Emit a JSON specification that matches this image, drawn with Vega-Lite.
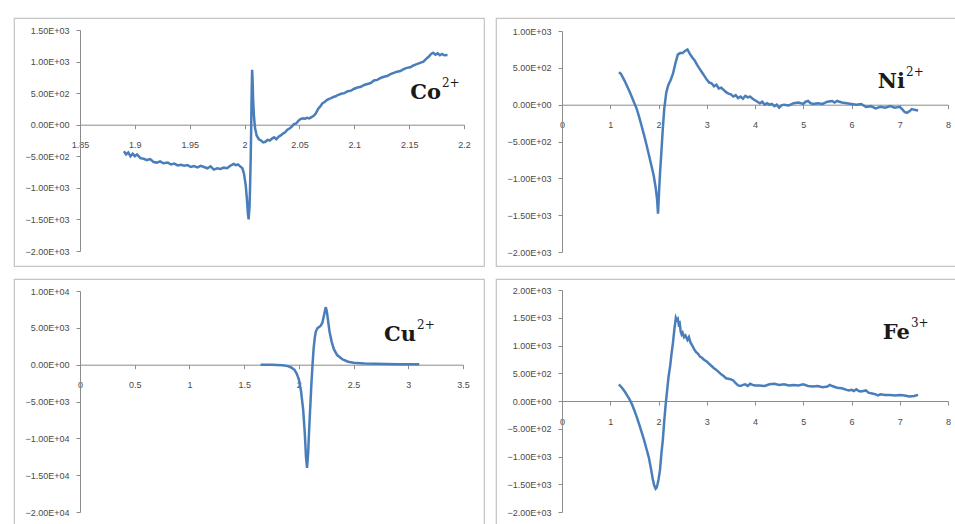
{
  "$schema": "https://vega.github.io/schema/vega-lite/v6.json",
  "background": "white",
  "padding": {"left": 13, "top": 17, "right": 0, "bottom": 0},
  "config": {
    "view": {"stroke": "#c4c4c4", "strokeWidth": 1.2},
    "axis": {"domainColor": "#8c8c8c", "tickColor": "#8c8c8c", "tickSize": 4, "labelFont": "Liberation Sans", "labelFontSize": 9, "labelColor": "#4a4a4a", "grid": false, "title": null, "labelFlush": false, "labelOverlap": false},
    "axisY": {"labelPadding": 7},
    "axisX": {"labelPadding": 12}
  },
  "columns": 2,
  "spacing": {"row": 11, "column": 10},
  "datasets": {
    "co": [
      {"x":1.890,"y":-420},{"x":1.892,"y":-470},{"x":1.894,"y":-440},{"x":1.896,"y":-500},{"x":1.898,"y":-460},{"x":1.900,"y":-500},{"x":1.902,"y":-470},{"x":1.905,"y":-530},{"x":1.908,"y":-540},{"x":1.911,"y":-560},{"x":1.914,"y":-545},{"x":1.917,"y":-590},{"x":1.920,"y":-600},{"x":1.923,"y":-580},{"x":1.926,"y":-610},{"x":1.930,"y":-600},{"x":1.933,"y":-630},{"x":1.936,"y":-615},{"x":1.939,"y":-645},{"x":1.942,"y":-635},{"x":1.945,"y":-650},{"x":1.948,"y":-640},{"x":1.951,"y":-670},{"x":1.954,"y":-655},{"x":1.957,"y":-675},{"x":1.960,"y":-650},{"x":1.963,"y":-670},{"x":1.966,"y":-690},{"x":1.969,"y":-660},{"x":1.972,"y":-710},{"x":1.975,"y":-690},{"x":1.978,"y":-700},{"x":1.981,"y":-680},{"x":1.984,"y":-690},{"x":1.987,"y":-650},{"x":1.990,"y":-620},{"x":1.992,"y":-640},{"x":1.994,"y":-630},{"x":1.996,"y":-660},{"x":1.998,"y":-690},{"x":1.9995,"y":-780},{"x":2.001,"y":-950},{"x":2.002,"y":-1150},{"x":2.003,"y":-1400},{"x":2.0037,"y":-1500},{"x":2.0045,"y":-1300},{"x":2.005,"y":-1000},{"x":2.0055,"y":-600},{"x":2.006,"y":-100},{"x":2.0063,"y":300},{"x":2.0066,"y":650},{"x":2.0069,"y":870},{"x":2.0073,"y":700},{"x":2.0078,"y":400},{"x":2.0085,"y":150},{"x":2.0095,"y":-50},{"x":2.011,"y":-170},{"x":2.013,"y":-230},{"x":2.015,"y":-250},{"x":2.017,"y":-280},{"x":2.019,"y":-270},{"x":2.021,"y":-240},{"x":2.023,"y":-250},{"x":2.025,"y":-220},{"x":2.027,"y":-200},{"x":2.029,"y":-230},{"x":2.031,"y":-190},{"x":2.033,"y":-170},{"x":2.035,"y":-140},{"x":2.037,"y":-120},{"x":2.039,"y":-80},{"x":2.041,"y":-60},{"x":2.043,"y":-30},{"x":2.045,"y":10},{"x":2.047,"y":20},{"x":2.049,"y":60},{"x":2.051,"y":90},{"x":2.053,"y":100},{"x":2.055,"y":95},{"x":2.057,"y":110},{"x":2.059,"y":100},{"x":2.061,"y":120},{"x":2.063,"y":140},{"x":2.065,"y":180},{"x":2.067,"y":250},{"x":2.069,"y":290},{"x":2.071,"y":340},{"x":2.073,"y":360},{"x":2.075,"y":390},{"x":2.077,"y":410},{"x":2.079,"y":420},{"x":2.081,"y":440},{"x":2.083,"y":450},{"x":2.085,"y":470},{"x":2.088,"y":490},{"x":2.091,"y":500},{"x":2.094,"y":530},{"x":2.097,"y":540},{"x":2.100,"y":570},{"x":2.103,"y":590},{"x":2.106,"y":600},{"x":2.109,"y":630},{"x":2.112,"y":645},{"x":2.115,"y":660},{"x":2.118,"y":700},{"x":2.121,"y":710},{"x":2.124,"y":740},{"x":2.127,"y":760},{"x":2.130,"y":770},{"x":2.133,"y":800},{"x":2.136,"y":820},{"x":2.139,"y":840},{"x":2.142,"y":850},{"x":2.145,"y":880},{"x":2.148,"y":900},{"x":2.151,"y":910},{"x":2.154,"y":940},{"x":2.157,"y":960},{"x":2.160,"y":980},{"x":2.163,"y":1000},{"x":2.166,"y":1050},{"x":2.168,"y":1080},{"x":2.170,"y":1120},{"x":2.172,"y":1140},{"x":2.174,"y":1110},{"x":2.176,"y":1130},{"x":2.178,"y":1100},{"x":2.180,"y":1120},{"x":2.182,"y":1100},{"x":2.185,"y":1105}
    ],
    "ni": [
      {"x":1.18,"y":440},{"x":1.22,"y":420},{"x":1.26,"y":370},{"x":1.30,"y":320},{"x":1.35,"y":250},{"x":1.40,"y":180},{"x":1.45,"y":100},{"x":1.50,"y":20},{"x":1.55,"y":-60},{"x":1.60,"y":-170},{"x":1.65,"y":-290},{"x":1.70,"y":-410},{"x":1.75,"y":-540},{"x":1.80,"y":-680},{"x":1.85,"y":-820},{"x":1.90,"y":-960},{"x":1.94,"y":-1120},{"x":1.97,"y":-1280},{"x":1.99,"y":-1480},{"x":2.00,"y":-1350},{"x":2.01,"y":-1200},{"x":2.03,"y":-950},{"x":2.06,"y":-640},{"x":2.09,"y":-320},{"x":2.12,"y":-50},{"x":2.16,"y":160},{"x":2.20,"y":260},{"x":2.25,"y":330},{"x":2.30,"y":420},{"x":2.35,"y":560},{"x":2.40,"y":680},{"x":2.45,"y":700},{"x":2.50,"y":700},{"x":2.55,"y":730},{"x":2.60,"y":750},{"x":2.65,"y":690},{"x":2.70,"y":640},{"x":2.75,"y":600},{"x":2.80,"y":540},{"x":2.85,"y":490},{"x":2.90,"y":440},{"x":2.95,"y":390},{"x":3.00,"y":340},{"x":3.05,"y":300},{"x":3.10,"y":290},{"x":3.15,"y":250},{"x":3.20,"y":270},{"x":3.25,"y":220},{"x":3.30,"y":230},{"x":3.35,"y":200},{"x":3.40,"y":170},{"x":3.45,"y":150},{"x":3.50,"y":140},{"x":3.55,"y":110},{"x":3.60,"y":130},{"x":3.65,"y":90},{"x":3.70,"y":110},{"x":3.75,"y":80},{"x":3.80,"y":120},{"x":3.85,"y":100},{"x":3.90,"y":110},{"x":3.95,"y":80},{"x":4.00,"y":60},{"x":4.05,"y":40},{"x":4.10,"y":20},{"x":4.15,"y":40},{"x":4.20,"y":0},{"x":4.25,"y":20},{"x":4.30,"y":0},{"x":4.35,"y":10},{"x":4.40,"y":-20},{"x":4.45,"y":0},{"x":4.50,"y":-40},{"x":4.55,"y":-10},{"x":4.60,"y":0},{"x":4.70,"y":-10},{"x":4.80,"y":20},{"x":4.90,"y":30},{"x":5.00,"y":10},{"x":5.05,"y":40},{"x":5.10,"y":50},{"x":5.15,"y":20},{"x":5.20,"y":10},{"x":5.30,"y":20},{"x":5.40,"y":10},{"x":5.50,"y":40},{"x":5.60,"y":50},{"x":5.65,"y":30},{"x":5.70,"y":50},{"x":5.80,"y":30},{"x":5.90,"y":20},{"x":6.00,"y":10},{"x":6.10,"y":0},{"x":6.20,"y":10},{"x":6.30,"y":-30},{"x":6.40,"y":-20},{"x":6.50,"y":-50},{"x":6.60,"y":-30},{"x":6.70,"y":-40},{"x":6.80,"y":-20},{"x":6.90,"y":-40},{"x":7.00,"y":-30},{"x":7.05,"y":-60},{"x":7.10,"y":-100},{"x":7.15,"y":-110},{"x":7.20,"y":-90},{"x":7.25,"y":-60},{"x":7.30,"y":-70},{"x":7.38,"y":-80}
    ],
    "cu": [
      {"x":1.65,"y":0},{"x":1.70,"y":0},{"x":1.75,"y":-10},{"x":1.80,"y":-30},{"x":1.85,"y":-80},{"x":1.90,"y":-200},{"x":1.93,"y":-380},{"x":1.96,"y":-700},{"x":1.98,"y":-1200},{"x":2.00,"y":-2000},{"x":2.02,"y":-3600},{"x":2.04,"y":-6200},{"x":2.055,"y":-9500},{"x":2.065,"y":-12500},{"x":2.075,"y":-14000},{"x":2.085,"y":-12000},{"x":2.095,"y":-8500},{"x":2.105,"y":-5500},{"x":2.115,"y":-2500},{"x":2.125,"y":0},{"x":2.135,"y":2200},{"x":2.145,"y":3600},{"x":2.155,"y":4500},{"x":2.17,"y":4950},{"x":2.185,"y":5100},{"x":2.20,"y":5300},{"x":2.215,"y":5700},{"x":2.23,"y":6700},{"x":2.245,"y":7800},{"x":2.255,"y":7300},{"x":2.265,"y":6200},{"x":2.28,"y":4500},{"x":2.30,"y":3100},{"x":2.32,"y":2100},{"x":2.35,"y":1300},{"x":2.40,"y":700},{"x":2.45,"y":400},{"x":2.50,"y":250},{"x":2.60,"y":150},{"x":2.70,"y":110},{"x":2.80,"y":90},{"x":2.90,"y":70},{"x":3.00,"y":60},{"x":3.10,"y":50}
    ],
    "fe": [
      {"x":1.18,"y":300},{"x":1.21,"y":270},{"x":1.25,"y":230},{"x":1.30,"y":170},{"x":1.35,"y":100},{"x":1.40,"y":30},{"x":1.45,"y":-60},{"x":1.50,"y":-170},{"x":1.55,"y":-290},{"x":1.60,"y":-420},{"x":1.65,"y":-560},{"x":1.70,"y":-700},{"x":1.75,"y":-860},{"x":1.80,"y":-1020},{"x":1.85,"y":-1250},{"x":1.88,"y":-1400},{"x":1.91,"y":-1520},{"x":1.94,"y":-1580},{"x":1.96,"y":-1560},{"x":1.98,"y":-1500},{"x":2.00,"y":-1420},{"x":2.03,"y":-1250},{"x":2.06,"y":-950},{"x":2.09,"y":-700},{"x":2.12,"y":-350},{"x":2.15,"y":-50},{"x":2.18,"y":200},{"x":2.21,"y":450},{"x":2.24,"y":620},{"x":2.27,"y":850},{"x":2.30,"y":1050},{"x":2.33,"y":1300},{"x":2.36,"y":1500},{"x":2.38,"y":1460},{"x":2.40,"y":1480},{"x":2.42,"y":1380},{"x":2.44,"y":1400},{"x":2.46,"y":1250},{"x":2.48,"y":1200},{"x":2.50,"y":1230},{"x":2.53,"y":1150},{"x":2.56,"y":1180},{"x":2.60,"y":1100},{"x":2.63,"y":1150},{"x":2.66,"y":1060},{"x":2.70,"y":1000},{"x":2.74,"y":930},{"x":2.78,"y":880},{"x":2.82,"y":850},{"x":2.86,"y":800},{"x":2.90,"y":780},{"x":2.95,"y":740},{"x":3.00,"y":710},{"x":3.05,"y":670},{"x":3.10,"y":630},{"x":3.15,"y":590},{"x":3.20,"y":560},{"x":3.25,"y":520},{"x":3.30,"y":480},{"x":3.35,"y":450},{"x":3.40,"y":410},{"x":3.45,"y":400},{"x":3.50,"y":390},{"x":3.55,"y":370},{"x":3.60,"y":320},{"x":3.65,"y":280},{"x":3.70,"y":270},{"x":3.75,"y":290},{"x":3.80,"y":300},{"x":3.85,"y":270},{"x":3.90,"y":310},{"x":3.95,"y":290},{"x":4.00,"y":280},{"x":4.10,"y":280},{"x":4.20,"y":270},{"x":4.30,"y":300},{"x":4.40,"y":310},{"x":4.50,"y":290},{"x":4.60,"y":300},{"x":4.70,"y":280},{"x":4.80,"y":290},{"x":4.90,"y":280},{"x":5.00,"y":300},{"x":5.10,"y":270},{"x":5.20,"y":260},{"x":5.30,"y":270},{"x":5.40,"y":250},{"x":5.50,"y":260},{"x":5.55,"y":290},{"x":5.60,"y":270},{"x":5.70,"y":240},{"x":5.80,"y":230},{"x":5.90,"y":200},{"x":5.95,"y":190},{"x":6.00,"y":200},{"x":6.05,"y":180},{"x":6.10,"y":210},{"x":6.15,"y":180},{"x":6.20,"y":170},{"x":6.30,"y":190},{"x":6.35,"y":150},{"x":6.45,"y":130},{"x":6.50,"y":120},{"x":6.55,"y":100},{"x":6.60,"y":120},{"x":6.70,"y":110},{"x":6.80,"y":110},{"x":6.90,"y":100},{"x":7.00,"y":110},{"x":7.10,"y":100},{"x":7.20,"y":80},{"x":7.30,"y":90},{"x":7.38,"y":110}
    ]
  },
  "concat": [
    {
      "width": 470, "height": 248,
      "encoding": {
        "x": {"field": "x", "type": "quantitative", "scale": {"domain": [1.85, 2.2], "range": [66, 450], "zero": false, "nice": false},
              "axis": {"values": [1.85, 1.9, 1.95, 2, 2.05, 2.1, 2.15, 2.2], "format": "~g", "offset": -141.3}},
        "y": {"field": "y", "type": "quantitative", "scale": {"domain": [-2000, 1500], "range": [233, 12], "nice": false, "zero": false},
              "axis": {"values": [-2000, -1500, -1000, -500, 0, 500, 1000, 1500], "offset": -66, "labelExpr": "replace(format(datum.value, '.2e'), 'e+', 'E+0')"}}
      },
      "layer": [
        {"data": {"name": "co"}, "mark": {"type": "line", "color": "#4a7ebb", "strokeWidth": 2.5}},
        {"data": {"values": [{"x": 2.179, "y": 407, "t": "Co"}]}, "mark": {"type": "text", "align": "right", "baseline": "alphabetic", "font": "DejaVu Serif", "fontSize": 21, "fontWeight": "bold", "color": "#1a1a1a"}, "encoding": {"text": {"field": "t"}}},
        {"data": {"values": [{"x": 2.179, "y": 407, "t": "2+"}]}, "mark": {"type": "text", "align": "left", "baseline": "alphabetic", "font": "DejaVu Serif", "fontSize": 12, "dx": 1, "dy": -12, "color": "#1a1a1a"}, "encoding": {"text": {"field": "t"}}}
      ]
    },
    {
      "width": 468, "height": 248,
      "encoding": {
        "x": {"field": "x", "type": "quantitative", "scale": {"domain": [0, 8], "range": [66, 452], "nice": false},
              "axis": {"values": [0, 1, 2, 3, 4, 5, 6, 7, 8], "format": "~g", "offset": -161.3}},
        "y": {"field": "y", "type": "quantitative", "scale": {"domain": [-2000, 1000], "range": [234, 13], "nice": false, "zero": false},
              "axis": {"values": [-2000, -1500, -1000, -500, 0, 500, 1000], "offset": -66, "labelExpr": "replace(format(datum.value, '.2e'), 'e+', 'E+0')"}}
      },
      "layer": [
        {"data": {"name": "ni"}, "mark": {"type": "line", "color": "#4a7ebb", "strokeWidth": 2.5}},
        {"data": {"values": [{"x": 7.11, "y": 227, "t": "Ni"}]}, "mark": {"type": "text", "align": "right", "baseline": "alphabetic", "font": "DejaVu Serif", "fontSize": 21, "fontWeight": "bold", "color": "#1a1a1a"}, "encoding": {"text": {"field": "t"}}},
        {"data": {"values": [{"x": 7.11, "y": 227, "t": "2+"}]}, "mark": {"type": "text", "align": "left", "baseline": "alphabetic", "font": "DejaVu Serif", "fontSize": 12, "dx": 1, "dy": -12, "color": "#1a1a1a"}, "encoding": {"text": {"field": "t"}}}
      ]
    },
    {
      "width": 470, "height": 246,
      "encoding": {
        "x": {"field": "x", "type": "quantitative", "scale": {"domain": [0, 3.5], "range": [66, 449], "nice": false},
              "axis": {"values": [0, 0.5, 1, 1.5, 2, 2.5, 3, 3.5], "format": "~g", "offset": -160.3}},
        "y": {"field": "y", "type": "quantitative", "scale": {"domain": [-20000, 10000], "range": [233, 12], "nice": false, "zero": false},
              "axis": {"values": [-20000, -15000, -10000, -5000, 0, 5000, 10000], "offset": -66, "labelExpr": "replace(format(datum.value, '.2e'), 'e+', 'E+0')"}}
      },
      "layer": [
        {"data": {"name": "cu"}, "mark": {"type": "line", "color": "#4a7ebb", "strokeWidth": 2.5}},
        {"data": {"values": [{"x": 3.071, "y": 3175, "t": "Cu"}]}, "mark": {"type": "text", "align": "right", "baseline": "alphabetic", "font": "DejaVu Serif", "fontSize": 21, "fontWeight": "bold", "color": "#1a1a1a"}, "encoding": {"text": {"field": "t"}}},
        {"data": {"values": [{"x": 3.071, "y": 3175, "t": "2+"}]}, "mark": {"type": "text", "align": "left", "baseline": "alphabetic", "font": "DejaVu Serif", "fontSize": 12, "dx": 1, "dy": -12, "color": "#1a1a1a"}, "encoding": {"text": {"field": "t"}}}
      ]
    },
    {
      "width": 468, "height": 246,
      "encoding": {
        "x": {"field": "x", "type": "quantitative", "scale": {"domain": [0, 8], "range": [66, 452], "nice": false},
              "axis": {"values": [0, 1, 2, 3, 4, 5, 6, 7, 8], "format": "~g", "offset": -124}},
        "y": {"field": "y", "type": "quantitative", "scale": {"domain": [-2000, 2000], "range": [233, 11], "nice": false, "zero": false},
              "axis": {"values": [-2000, -1500, -1000, -500, 0, 500, 1000, 1500, 2000], "offset": -66, "labelExpr": "replace(format(datum.value, '.2e'), 'e+', 'E+0')"}}
      },
      "layer": [
        {"data": {"name": "fe"}, "mark": {"type": "line", "color": "#4a7ebb", "strokeWidth": 2.5}},
        {"data": {"values": [{"x": 7.21, "y": 1123, "t": "Fe"}]}, "mark": {"type": "text", "align": "right", "baseline": "alphabetic", "font": "DejaVu Serif", "fontSize": 21, "fontWeight": "bold", "color": "#1a1a1a"}, "encoding": {"text": {"field": "t"}}},
        {"data": {"values": [{"x": 7.21, "y": 1123, "t": "3+"}]}, "mark": {"type": "text", "align": "left", "baseline": "alphabetic", "font": "DejaVu Serif", "fontSize": 12, "dx": 1, "dy": -12, "color": "#1a1a1a"}, "encoding": {"text": {"field": "t"}}}
      ]
    }
  ]
}
